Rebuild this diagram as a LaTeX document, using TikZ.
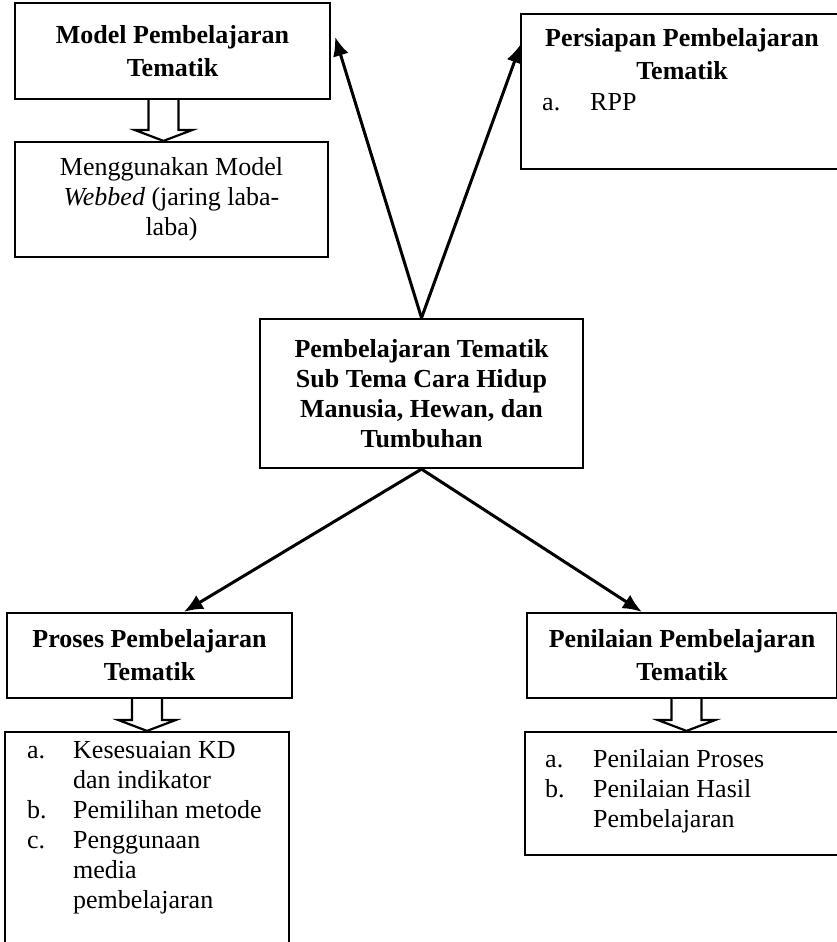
\documentclass[tikz,border=0pt]{standalone}
\usepackage{fontspec}
\setmainfont{Liberation Serif}
\usetikzlibrary{calc,arrows.meta}

\tikzset{
  kotak/.style={draw, line width=2.2pt, inner sep=0pt, align=center,
    font=\fontsize{26}{33}\selectfont\bfseries},
  panah/.style={line width=3pt, -{Latex[length=19pt,width=16pt]}},
  isi/.style={inner sep=0pt, anchor=base west, font=\fontsize{26}{30}\selectfont},
}
% panah blok: #1 kotak atas, #2 kotak bawah, #3 geser x
\newcommand{\panahblok}[3]{%
  \path (#1.south |- #2.north) coordinate (ujungblok);
  \draw[line width=2.2pt, line join=miter]
    ($(#1.south)+(#3-15,0)$) -- ($(ujungblok)+(#3-15,-11)$)
    -- ($(ujungblok)+(#3-29,-11)$) -- ($(ujungblok)+(#3,0)$)
    -- ($(ujungblok)+(#3+29,-11)$) -- ($(ujungblok)+(#3+15,-11)$)
    -- ($(#1.south)+(#3+15,0)$);}

\begin{document}
\begin{tikzpicture}[x=1pt,y=-1pt]
  \useasboundingbox (0,0) rectangle (836,942);

  \node[kotak, minimum width=315pt, minimum height=96pt] (model) at (172.5,51) {Model Pembelajaran\\Tematik};
  \node[kotak, font=\fontsize{26}{30}\selectfont, minimum width=313pt, minimum height=115pt] (webbed) at (171.5,199.5) {Menggunakan Model\\\textit{Webbed} (jaring laba-\\laba)};
  \panahblok{model}{webbed}{-9}

  \node[kotak, minimum width=322pt, minimum height=155pt] (persiapan) at (682,91.5) {};
  \node[kotak, draw=none, anchor=base] (judulPersiapan) at (682,80) {Persiapan Pembelajaran\\Tematik};
  \node[isi] (rpp) at (542,110) {\makebox[48pt][l]{a.}RPP};

  \node[kotak, font=\fontsize{26}{30}\selectfont\bfseries, minimum width=323pt, minimum height=149pt] (pusat) at (421.5,393.5) {Pembelajaran Tematik\\Sub Tema Cara Hidup\\Manusia, Hewan, dan\\Tumbuhan};

  \node[kotak, minimum width=285pt, minimum height=85pt] (proses) at (149.5,655.5) {Proses Pembelajaran\\Tematik};
  \node[kotak, minimum width=284pt, minimum height=220pt] (isiProses) at (147,842) {};
  \node[isi] (daftarProses) at (27,758) {\begin{tabular}[t]{@{}p{46pt}@{}l@{}}a. & Kesesuaian KD\\ & dan indikator\\ b. & Pemilihan metode\\ c. & Penggunaan\\ & media\\ & pembelajaran\end{tabular}};
  \panahblok{proses}{isiProses}{-2.5}

  \node[kotak, minimum width=310pt, minimum height=85pt] (penilaian) at (682,655.5) {Penilaian Pembelajaran\\Tematik};
  \node[kotak, minimum width=315pt, minimum height=123pt] (isiPenilaian) at (682.5,793.5) {};
  \node[isi] (daftarPenilaian) at (545,767) {\begin{tabular}[t]{@{}p{48pt}@{}l@{}}a. & Penilaian Proses\\ b. & Penilaian Hasil\\ & Pembelajaran\end{tabular}};
  \panahblok{penilaian}{isiPenilaian}{4.5}

  \coordinate (ujungModel) at ($(model.north east)+(4,35)$);
  \coordinate (ujungPersiapan) at ($(persiapan.north west)+(1,31)$);
  \coordinate (ujungProses) at ($(proses.north west)+(178,0)$);
  \coordinate (ujungPenilaian) at ($(penilaian.north west)+(116,0)$);
  \draw[panah] (pusat.north) -- (ujungModel);
  \draw[panah] (pusat.north) -- (ujungPersiapan);
  \draw[panah] (pusat.south) -- (ujungProses);
  \draw[panah] (pusat.south) -- (ujungPenilaian);
\end{tikzpicture}
\end{document}
